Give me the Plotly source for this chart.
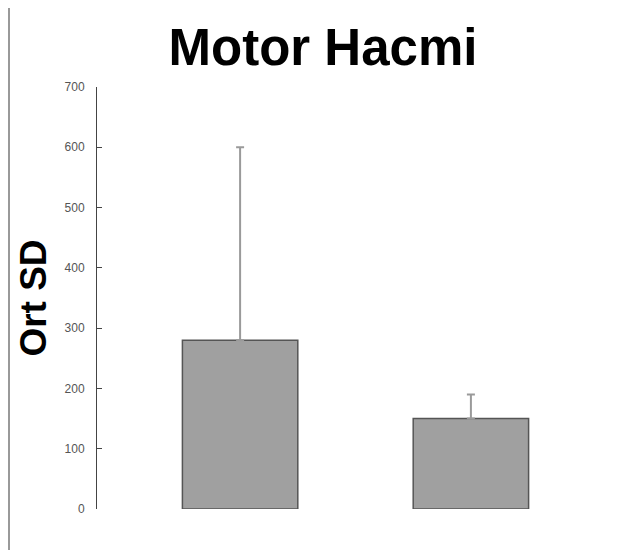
import plotly.graph_objects as go

categories = ["Grup 1", "Grup 2"]
means = [280, 150]
sd_plus = [320, 40]
y_ticks = [0, 100, 200, 300, 400, 500, 600, 700]

L, R, T, B = 89, 24, 79, 49
W, H = 630, 550
pw = W - L - R
ph = H - T - B

fig = go.Figure()
fig.add_trace(go.Bar(
    x=[0, 1],
    y=means,
    width=0.5,
    marker=dict(color="#a0a0a0", line=dict(color="#555555", width=1.5)),
    error_y=dict(type="data", array=sd_plus, symmetric=False, arrayminus=[0, 0],
                 color="#9a9a9a", thickness=2, width=4),
    hovertext=categories,
))

fig.update_layout(
    width=W, height=H,
    margin=dict(l=L, r=R, t=T, b=B),
    paper_bgcolor="white", plot_bgcolor="white",
    showlegend=False,
    title=dict(text="<b>Motor Hacmi</b>", x=0.5, xanchor="center", xref="container",
               y=1 - 39 / H, yanchor="middle", yref="container",
               font=dict(family="Liberation Sans, Arial", size=51, color="black")),
    xaxis=dict(range=[-0.62, 1.62], showticklabels=False, showline=False,
               showgrid=False, zeroline=False, ticks=""),
    yaxis=dict(range=[0, 700], tickvals=y_ticks, ticks="inside", ticklen=5, tickwidth=1,
               tickcolor="#444444", showline=True, linecolor="#444444", linewidth=1,
               showgrid=False, zeroline=False, ticklabelstandoff=9,
               tickfont=dict(family="Liberation Sans, Arial", size=12, color="#555555"),
               title=dict(text="<b>Ort SD</b>", standoff=6,
                          font=dict(family="Liberation Sans, Arial", size=37, color="black"))),
    shapes=[dict(type="line", xref="paper", yref="paper",
                 x0=(1 - L) / pw, x1=(1 - L) / pw, y0=-B / ph, y1=1 + T / ph,
                 line=dict(color="#999999", width=2))],
)

fig.write_html("out.html")
